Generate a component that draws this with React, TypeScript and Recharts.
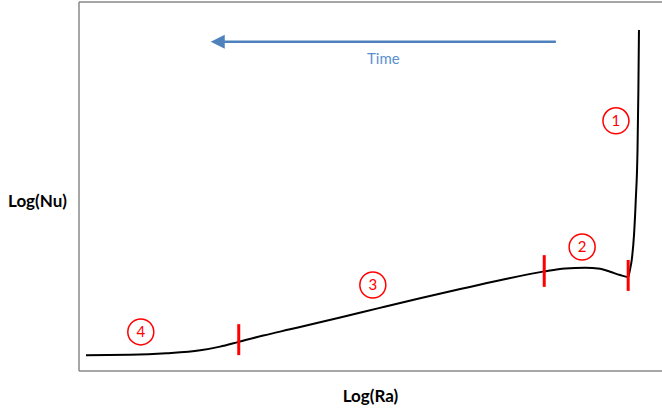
import React from "react";
import {
    LineChart,
    Line,
    XAxis,
    YAxis,
    ReferenceLine,
    ReferenceDot,
} from "recharts";

// Log(Ra) vs Log(Nu), both in arbitrary units 0..100
const curveRa = [
    1.2, 8.7, 15.0, 20.8, 24.2, 27.4, 31.6, 36.2, 40.8, 44.8, 51.6, 58.5, 65.4,
    72.2, 79.8, 83.4, 86.8, 89.4, 91.1, 92.8, 94.2, 94.5, 94.85, 95.2, 95.5, 95.8,
    95.95, 96.05,
];
const curveNu = [
    4.3, 4.4, 4.8, 5.6, 6.6, 7.9, 9.6, 11.3, 13.0, 14.5, 17.1, 19.7, 22.2,
    24.6, 27.0, 27.8, 28.0, 27.7, 26.9, 26.0, 25.5, 27.4, 30.6, 36.9, 46.3, 59.9,
    76.2, 92.4,
];

// regime boundaries (red marks)
const boundaryRa = [27.4, 79.8, 94.2];
const boundaryLow = [4.3, 22.8, 21.7];
const boundaryHigh = [12.7, 31.4, 30.1];

// numbered regime labels
const regimeNames = ["1", "2", "3", "4"];
const regimeRa = [92.1, 86.3, 50.4, 10.6];
const regimeNu = [67.8, 33.6, 23.3, 10.6];

// time arrow
const arrowFrom = { x: 81.8, y: 89.2 };
const arrowTo = { x: 22.6, y: 89.2 };

const data = curveRa.map((x, i) => ({ x, nu: curveNu[i] }));

const FONT = "Lato, 'Open Sans', sans-serif";
const BOX = "#888888";
const ARROW = "#4f81bd";

function TimeArrow(props: any) {
    const { x1, y1, x2, y2 } = props;
    const head = 14;
    return (
        <g>
            <line x1={x1} y1={y1} x2={x2 + head - 2} y2={y2} stroke={ARROW} strokeWidth={2.5} />
            <polygon
                points={`${x2},${y2} ${x2 + head},${y2 - 7} ${x2 + head},${y2 + 7}`}
                fill={ARROW}
            />
            <text
                x={(x1 + x2) / 2}
                y={y1 + 18}
                textAnchor="middle"
                dominantBaseline="middle"
                fill="#5b8fd0"
                fontSize={15}
                fontFamily={FONT}
            >
                Time
            </text>
        </g>
    );
}

export default function App() {
    return (
        <div style={{ position: "absolute", left: 0, top: 0 }}>
            <LineChart
                width={662}
                height={408}
                data={data}
                margin={{ top: 2, right: 0, bottom: 0, left: 0 }}
            >
                <XAxis
                    dataKey="x"
                    type="number"
                    domain={[0, 100]}
                    tick={false}
                    tickLine={false}
                    height={37}
                    axisLine={{ stroke: BOX, strokeWidth: 1.5 }}
                    label={{
                        value: "Log(Ra)",
                        position: "insideBottom",
                        offset: 6,
                        fill: "#000",
                        fontSize: 17,
                        fontWeight: "bold",
                        fontFamily: FONT,
                    }}
                />
                <YAxis
                    type="number"
                    domain={[0, 100]}
                    tick={false}
                    tickLine={false}
                    width={79}
                    axisLine={{ stroke: BOX, strokeWidth: 1.5 }}
                    label={{
                        value: "Log(Nu)",
                        position: "insideLeft",
                        offset: 8,
                        dy: 14,
                        fill: "#000",
                        fontSize: 17,
                        fontWeight: "bold",
                        fontFamily: FONT,
                    }}
                />
                <ReferenceLine y={100} stroke={BOX} strokeWidth={1.5} />
                <ReferenceLine segment={[arrowFrom, arrowTo]} shape={TimeArrow} />
                <Line
                    type="monotone"
                    dataKey="nu"
                    stroke="#000"
                    strokeWidth={2}
                    dot={false}
                    isAnimationActive={false}
                />
                {boundaryRa.map((x, i) => (
                    <ReferenceLine
                        key={"b" + i}
                        segment={[
                            { x, y: boundaryLow[i] },
                            { x, y: boundaryHigh[i] },
                        ]}
                        stroke="#ff0000"
                        strokeWidth={3}
                    />
                ))}
                {regimeNames.map((name, i) => (
                    <ReferenceDot
                        key={"r" + name}
                        x={regimeRa[i]}
                        y={regimeNu[i]}
                        r={13}
                        fill="#fff"
                        stroke="#ff0000"
                        strokeWidth={1.5}
                        label={{
                            value: name,
                            position: "center",
                            fill: "#ff0000",
                            fontSize: 15,
                            fontFamily: FONT,
                        }}
                    />
                ))}
            </LineChart>
        </div>
    );
}
